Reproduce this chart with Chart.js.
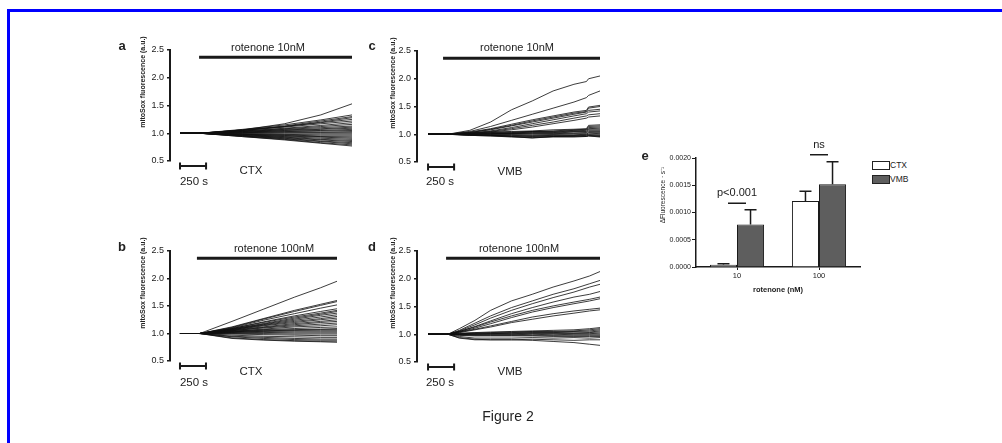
<!DOCTYPE html>
<html>
<head>
<meta charset="utf-8">
<script src="https://cdn.jsdelivr.net/npm/chart.js@4.4.1/dist/chart.umd.min.js"></script>
<style>
  body { margin: 0; width: 1002px; height: 443px; overflow: hidden; position: relative; background: #fff;
         font-family: "Liberation Sans", Arial, sans-serif; color: #222; }
  .frame { position: absolute; left: 7px; top: 9px; width: 1100px; height: 500px;
           border-top: 3px solid #0000ff; border-left: 3px solid #0000ff; }
  canvas { position: absolute; }
  .t { position: absolute; transform: translate(-50%, -50%); white-space: nowrap; line-height: 1; }
  .letter { font-weight: bold; font-size: 13px; }
  .rot { font-size: 11px; }
  .grp { font-size: 11.5px; }
  .ytitle { font-size: 7px; font-weight: bold; transform: translate(-50%, -50%) rotate(-90deg); }
  .leg { position: absolute; width: 16px; height: 7px; border: 1px solid #222; }
  .legtxt { position: absolute; font-size: 8.5px; line-height: 1; }
</style>
</head>
<body>
<div class="frame"></div>

<canvas id="chartA" width="260" height="175" style="left:100px;top:30px"></canvas>
<canvas id="chartB" width="260" height="175" style="left:100px;top:230px"></canvas>
<canvas id="chartC" width="260" height="175" style="left:350px;top:30px"></canvas>
<canvas id="chartD" width="260" height="175" style="left:350px;top:230px"></canvas>
<canvas id="chartE" width="230" height="165" style="left:640px;top:135px"></canvas>

<div class="t letter" style="left:122px;top:45px">a</div>
<div class="t letter" style="left:122px;top:246px">b</div>
<div class="t letter" style="left:372px;top:45px">c</div>
<div class="t letter" style="left:372px;top:246px">d</div>
<div class="t letter" style="left:645px;top:155px">e</div>

<div class="t rot" style="left:268px;top:47px">rotenone 10nM</div>
<div class="t rot" style="left:274px;top:248px">rotenone 100nM</div>
<div class="t rot" style="left:517px;top:47px">rotenone 10nM</div>
<div class="t rot" style="left:519px;top:248px">rotenone 100nM</div>

<div class="t grp" style="left:251px;top:171px">CTX</div>
<div class="t grp" style="left:251px;top:372px">CTX</div>
<div class="t grp" style="left:510px;top:172px">VMB</div>
<div class="t grp" style="left:510px;top:372px">VMB</div>

<div class="t grp" style="left:194px;top:182px">250 s</div>
<div class="t grp" style="left:194px;top:383px">250 s</div>
<div class="t grp" style="left:440px;top:182px">250 s</div>
<div class="t grp" style="left:440px;top:383px">250 s</div>

<div class="t ytitle" style="left:142px;top:82px">mitoSox fluorescence  (a.u.)</div>
<div class="t ytitle" style="left:142px;top:283px">mitoSox fluorescence  (a.u.)</div>
<div class="t ytitle" style="left:392px;top:83px">mitoSox fluorescence  (a.u.)</div>
<div class="t ytitle" style="left:392px;top:283px">mitoSox fluorescence  (a.u.)</div>
<div class="t ytitle" style="left:663px;top:195px;font-weight:normal;font-size:6.5px">ΔFluorescence · s⁻¹</div>

<div class="leg" style="left:872px;top:161px;background:#fff"></div>
<div class="legtxt" style="left:890px;top:161px">CTX</div>
<div class="leg" style="left:872px;top:175px;background:#5e5e5e"></div>
<div class="legtxt" style="left:890px;top:175px">VMB</div>

<div class="t" style="left:508px;top:416px;font-size:14px">Figure 2</div>

<script>
// ---- traces (mitoSox fluorescence, a.u.) ----
const timesA = [0, 190, 600, 1000, 1350, 1650];
const tracesA = [
  [1, 1, 1.06, 1.17, 1.33, 1.53],
  [1, 1, 1.07, 1.15, 1.24, 1.33],
  [1, 1, 1.06, 1.13, 1.22, 1.30],
  [1, 1, 1.06, 1.12, 1.20, 1.28],
  [1, 1, 1.05, 1.12, 1.19, 1.25],
  [1, 1, 1.05, 1.11, 1.17, 1.22],
  [1, 1, 1.04, 1.09, 1.14, 1.19],
  [1, 1, 1.04, 1.08, 1.12, 1.16],
  [1, 1, 1.03, 1.07, 1.10, 1.13],
  [1, 1, 1.03, 1.06, 1.08, 1.11],
  [1, 1, 1.02, 1.05, 1.07, 1.09],
  [1, 1, 1.02, 1.04, 1.05, 1.07],
  [1, 1, 1.01, 1.03, 1.04, 1.05],
  [1, 1, 1.01, 1.02, 1.02, 1.03],
  [1, 1, 1.00, 1.01, 1.01, 1.01],
  [1, 1, 0.99, 0.99, 0.99, 0.99],
  [1, 1, 0.99, 0.98, 0.97, 0.97],
  [1, 1, 0.98, 0.97, 0.95, 0.95],
  [1, 1, 0.98, 0.96, 0.94, 0.93],
  [1, 1, 0.97, 0.95, 0.93, 0.91],
  [1, 1, 0.97, 0.94, 0.91, 0.89],
  [1, 1, 0.96, 0.93, 0.89, 0.87],
  [1, 1, 0.96, 0.92, 0.88, 0.85],
  [1, 1, 0.95, 0.91, 0.86, 0.83],
  [1, 1, 0.95, 0.90, 0.85, 0.81],
  [1, 1, 0.94, 0.89, 0.83, 0.79],
  [1, 1, 0.94, 0.88, 0.82, 0.77]
];

const timesB = [0, 190, 500, 800, 1100, 1350, 1510];
const tracesB = [
  [1, 1, 1.22, 1.44, 1.66, 1.83, 1.95],
  [1, 1, 1.12, 1.27, 1.42, 1.53, 1.60],
  [1, 1, 1.11, 1.26, 1.40, 1.51, 1.58],
  [1, 1, 1.10, 1.24, 1.36, 1.46, 1.52],
  [1, 1, 1.09, 1.21, 1.32, 1.40, 1.45],
  [1, 1, 1.09, 1.20, 1.30, 1.37, 1.42],
  [1, 1, 1.08, 1.18, 1.28, 1.35, 1.40],
  [1, 1, 1.08, 1.17, 1.26, 1.33, 1.37],
  [1, 1, 1.07, 1.16, 1.24, 1.30, 1.34],
  [1, 1, 1.07, 1.15, 1.22, 1.27, 1.31],
  [1, 1, 1.06, 1.14, 1.20, 1.25, 1.28],
  [1, 1, 1.06, 1.12, 1.18, 1.22, 1.25],
  [1, 1, 1.05, 1.11, 1.16, 1.20, 1.22],
  [1, 1, 1.05, 1.10, 1.14, 1.17, 1.19],
  [1, 1, 1.04, 1.08, 1.12, 1.14, 1.16],
  [1, 1, 1.04, 1.07, 1.09, 1.11, 1.12],
  [1, 1, 1.03, 1.06, 1.07, 1.08, 1.09],
  [1, 1, 1.03, 1.05, 1.06, 1.07, 1.07],
  [1, 1, 1.02, 1.04, 1.05, 1.05, 1.05],
  [1, 1, 1.02, 1.03, 1.03, 1.03, 1.03],
  [1, 1, 1.01, 1.02, 1.01, 1.01, 1.01],
  [1, 1, 1.00, 1.00, 0.99, 0.99, 0.99],
  [1, 1, 0.99, 0.98, 0.97, 0.96, 0.96],
  [1, 1, 0.97, 0.95, 0.94, 0.93, 0.93],
  [1, 1, 0.95, 0.93, 0.91, 0.90, 0.90],
  [1, 1, 0.94, 0.91, 0.89, 0.88, 0.88],
  [1, 1, 0.92, 0.89, 0.87, 0.86, 0.86],
  [1, 1, 0.91, 0.88, 0.86, 0.85, 0.84]
];

const timesC = [0, 190, 400, 600, 800, 1000, 1200, 1400, 1520, 1540, 1650];
const tracesC = [
  [1, 1, 1.07, 1.22, 1.44, 1.60, 1.78, 1.90, 1.95, 2.00, 2.05],
  [1, 1, 1.05, 1.14, 1.25, 1.36, 1.47, 1.58, 1.66, 1.70, 1.78],
  [1, 1, 1.04, 1.10, 1.18, 1.26, 1.33, 1.40, 1.43, 1.49, 1.52],
  [1, 1, 1.03, 1.09, 1.16, 1.24, 1.31, 1.38, 1.41, 1.47, 1.50],
  [1, 1, 1.03, 1.08, 1.15, 1.22, 1.29, 1.36, 1.40, 1.43, 1.45],
  [1, 1, 1.02, 1.06, 1.12, 1.19, 1.26, 1.33, 1.37, 1.40, 1.42],
  [1, 1, 1.02, 1.05, 1.10, 1.16, 1.22, 1.29, 1.33, 1.35, 1.37],
  [1, 1, 1.01, 1.04, 1.08, 1.13, 1.19, 1.25, 1.29, 1.31, 1.33],
  [1, 1, 1.02, 1.04, 1.05, 1.06, 1.08, 1.09, 1.10, 1.16, 1.17],
  [1, 1, 1.01, 1.03, 1.04, 1.05, 1.06, 1.08, 1.09, 1.14, 1.15],
  [1, 1, 1.01, 1.02, 1.03, 1.05, 1.05, 1.07, 1.08, 1.12, 1.13],
  [1, 1, 1.00, 1.02, 1.02, 1.04, 1.04, 1.06, 1.07, 1.10, 1.11],
  [1, 1, 1.01, 1.01, 1.02, 1.03, 1.03, 1.05, 1.05, 1.09, 1.09],
  [1, 1, 1.00, 1.01, 1.01, 1.02, 1.02, 1.04, 1.04, 1.07, 1.07],
  [1, 1, 1.00, 1.00, 1.01, 1.01, 1.01, 1.02, 1.03, 1.05, 1.05],
  [1, 1, 1.00, 1.00, 1.00, 1.00, 1.00, 1.01, 1.01, 1.03, 1.03],
  [1, 1, 0.99, 0.99, 0.99, 0.98, 0.99, 0.99, 1.00, 1.02, 1.01],
  [1, 1, 0.99, 0.98, 0.98, 0.97, 0.98, 0.98, 0.99, 1.00, 1.00],
  [1, 1, 0.99, 0.98, 0.97, 0.96, 0.97, 0.97, 0.98, 0.99, 0.98],
  [1, 1, 0.98, 0.97, 0.96, 0.95, 0.96, 0.96, 0.97, 0.98, 0.97],
  [1, 1, 0.98, 0.97, 0.95, 0.94, 0.95, 0.95, 0.96, 0.97, 0.96],
  [1, 1, 0.99, 0.98, 0.96, 0.93, 0.96, 0.97, 0.96, 0.97, 0.95]
];

const timesD = [0, 190, 300, 450, 600, 800, 1000, 1200, 1400, 1550, 1650];
const tracesD = [
  [1, 1, 1.10, 1.25, 1.43, 1.60, 1.72, 1.85, 1.96, 2.05, 2.13],
  [1, 1, 1.07, 1.20, 1.33, 1.48, 1.60, 1.72, 1.82, 1.91, 1.97],
  [1, 1, 1.06, 1.17, 1.29, 1.43, 1.55, 1.66, 1.76, 1.85, 1.90],
  [1, 1, 1.05, 1.14, 1.24, 1.37, 1.48, 1.58, 1.67, 1.72, 1.77],
  [1, 1, 1.05, 1.13, 1.22, 1.33, 1.43, 1.51, 1.58, 1.63, 1.67],
  [1, 1, 1.04, 1.11, 1.19, 1.30, 1.40, 1.48, 1.55, 1.60, 1.64],
  [1, 1, 1.04, 1.09, 1.15, 1.23, 1.31, 1.37, 1.42, 1.45, 1.47],
  [1, 1, 1.03, 1.08, 1.13, 1.21, 1.27, 1.33, 1.38, 1.42, 1.44],
  [1, 1, 1.02, 1.03, 1.04, 1.05, 1.06, 1.07, 1.08, 1.10, 1.12],
  [1, 1, 1.01, 1.02, 1.03, 1.04, 1.05, 1.05, 1.06, 1.08, 1.10],
  [1, 1, 1.01, 1.02, 1.02, 1.03, 1.04, 1.04, 1.05, 1.06, 1.08],
  [1, 1, 1.00, 1.01, 1.01, 1.02, 1.03, 1.03, 1.04, 1.04, 1.06],
  [1, 1, 1.00, 1.00, 1.01, 1.01, 1.02, 1.02, 1.02, 1.03, 1.04],
  [1, 1, 1.00, 1.00, 1.00, 1.00, 1.01, 1.01, 1.01, 1.01, 1.02],
  [1, 1, 0.99, 0.99, 0.99, 0.99, 1.00, 0.99, 1.00, 1.00, 1.00],
  [1, 1, 0.99, 0.98, 0.98, 0.98, 0.98, 0.98, 0.98, 0.98, 0.98],
  [1, 1, 0.98, 0.97, 0.97, 0.97, 0.97, 0.96, 0.96, 0.96, 0.96],
  [1, 1, 0.96, 0.93, 0.93, 0.93, 0.94, 0.93, 0.94, 0.93, 0.94],
  [1, 1, 0.94, 0.91, 0.90, 0.90, 0.91, 0.90, 0.89, 0.90, 0.90],
  [1, 1, 0.93, 0.90, 0.90, 0.90, 0.89, 0.87, 0.85, 0.82, 0.80]
];

// rotenone application (s) and end of recording (s)
const rotenoneA = [183, 1650];
const rotenoneB = [163, 1510];
const rotenoneC = [144, 1650];
const rotenoneD = [173, 1650];
const scaleBarSeconds = 250;

// ---- panel e: rate of fluorescence increase ----
const doses = ['10', '100'];
const ctxMean = [0.00004, 0.00121];
const ctxSem = [0.00002, 0.00018];
const vmbMean = [0.00078, 0.00152];
const vmbSem = [0.00027, 0.00041];
const sigLabels = ['p<0.001', 'ns'];
const sigLevels = [0.00117, 0.00206];

const INK = '#1a1a1a';
const FONT = '"Liberation Sans", Arial, sans-serif';

const scaleBarPlugin = {
  id: 'scaleBar',
  afterDraw(chart) {
    const xs = chart.scales.x, area = chart.chartArea, ctx = chart.ctx;
    const x0 = xs.getPixelForValue(0), x1 = xs.getPixelForValue(scaleBarSeconds);
    const y = area.bottom + 5;
    ctx.save();
    ctx.strokeStyle = INK;
    ctx.lineWidth = 2;
    ctx.beginPath();
    ctx.moveTo(x0, y); ctx.lineTo(x1, y);
    ctx.moveTo(x0, y - 3.5); ctx.lineTo(x0, y + 3.5);
    ctx.moveTo(x1, y - 3.5); ctx.lineTo(x1, y + 3.5);
    ctx.stroke();
    ctx.restore();
  }
};

function tracePanel(id, times, traces, rotenone, xMin, axisWidth, pad) {
  const datasets = traces.map(vals => ({
    data: vals.map((v, i) => ({ x: times[i], y: v })),
    borderColor: 'rgba(15,15,15,0.9)',
    borderWidth: 0.9,
    pointRadius: 0,
    tension: 0
  }));
  datasets.push({
    data: [{ x: rotenone[0], y: 2.37 }, { x: rotenone[1], y: 2.37 }],
    borderColor: INK,
    borderWidth: 3,
    pointRadius: 0
  });
  new Chart(document.getElementById(id), {
    type: 'line',
    data: { datasets },
    options: {
      responsive: false,
      animation: false,
      layout: { padding: pad },
      plugins: { legend: { display: false }, tooltip: { enabled: false } },
      scales: {
        x: { type: 'linear', display: false, min: xMin, max: rotenone[1] },
        y: {
          min: 0.5, max: 2.5,
          afterFit: s => { s.width = axisWidth; },
          ticks: { stepSize: 0.5, callback: v => v.toFixed(1), color: INK, padding: 3,
                   font: { family: FONT, size: 9 } },
          grid: { drawOnChartArea: false, tickLength: 3, color: INK, lineWidth: 1.5 },
          border: { color: INK, width: 2 }
        }
      }
    },
    plugins: [scaleBarPlugin]
  });
}

tracePanel('chartA', timesA, tracesA, rotenoneA, -96, 70, { top: 20, right: 8, bottom: 44, left: 0 });
tracePanel('chartB', timesB, tracesB, rotenoneB, -96, 70, { top: 21, right: 23, bottom: 44, left: 0 });
tracePanel('chartC', timesC, tracesC, rotenoneC, -106, 67, { top: 21, right: 10, bottom: 43, left: 0 });
tracePanel('chartD', timesD, tracesD, rotenoneD, -106, 67, { top: 21, right: 10, bottom: 43, left: 0 });

const errorBarPlugin = {
  id: 'errorBars',
  afterDatasetsDraw(chart) {
    const ctx = chart.ctx, ys = chart.scales.y;
    const sems = [ctxSem, vmbSem];
    ctx.save();
    ctx.strokeStyle = INK;
    ctx.lineWidth = 1.5;
    chart.data.datasets.forEach((ds, di) => {
      chart.getDatasetMeta(di).data.forEach((bar, i) => {
        const yTop = ys.getPixelForValue(ds.data[i] + sems[di][i]);
        ctx.beginPath();
        ctx.moveTo(bar.x, bar.y); ctx.lineTo(bar.x, yTop);
        ctx.moveTo(bar.x - 6, yTop); ctx.lineTo(bar.x + 6, yTop);
        ctx.stroke();
      });
    });
    // significance markers
    const xs = chart.scales.x;
    ctx.fillStyle = INK;
    ctx.font = '11px ' + FONT;
    ctx.textAlign = 'center';
    ctx.textBaseline = 'middle';
    sigLabels.forEach((lab, i) => {
      const cx = xs.getPixelForValue(i), y = ys.getPixelForValue(sigLevels[i]);
      ctx.beginPath();
      ctx.moveTo(cx - 9, y); ctx.lineTo(cx + 9, y);
      ctx.stroke();
      ctx.fillText(lab, cx, y - 10);
    });
    ctx.restore();
  }
};

new Chart(document.getElementById('chartE'), {
  type: 'bar',
  data: {
    labels: doses,
    datasets: [
      { label: 'CTX', data: ctxMean, backgroundColor: '#ffffff', borderColor: INK, borderWidth: 1,
        barPercentage: 1.0, categoryPercentage: 0.66 },
      { label: 'VMB', data: vmbMean, backgroundColor: '#5e5e5e', borderColor: INK, borderWidth: 1,
        barPercentage: 1.0, categoryPercentage: 0.66 }
    ]
  },
  options: {
    responsive: false,
    animation: false,
    layout: { padding: { top: 23, right: 10, bottom: 0, left: 0 } },
    plugins: { legend: { display: false }, tooltip: { enabled: false } },
    scales: {
      x: {
        afterFit: s => { s.height = 33; },
        ticks: { color: INK, padding: 1, font: { family: FONT, size: 7.5 } },
        grid: { offset: false, drawOnChartArea: false, tickLength: 3, color: INK, lineWidth: 1 },
        border: { color: INK, width: 1.5 },
        title: { display: true, text: 'rotenone (nM)', color: INK, padding: { top: 0, bottom: 6 },
                 font: { family: FONT, size: 7.5, weight: 'bold' } }
      },
      y: {
        min: 0, max: 0.002,
        afterFit: s => { s.width = 56; },
        ticks: { stepSize: 0.0005, callback: v => v.toFixed(4), color: INK, padding: 1,
                 font: { family: FONT, size: 7 } },
        grid: { drawOnChartArea: false, tickLength: 4, color: INK, lineWidth: 1 },
        border: { color: INK, width: 1.5 }
      }
    }
  },
  plugins: [errorBarPlugin]
});
</script>
</body>
</html>
